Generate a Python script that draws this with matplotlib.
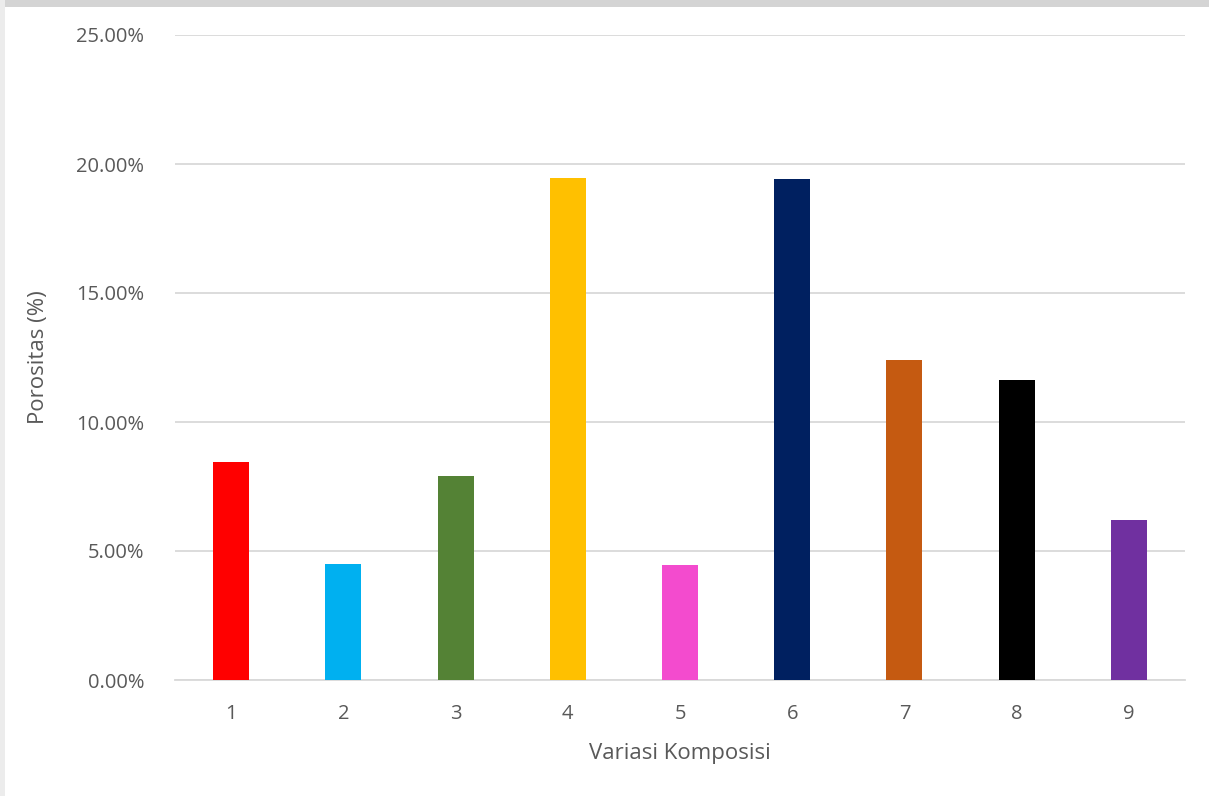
import matplotlib
matplotlib.use("Agg")
import matplotlib.pyplot as plt
from matplotlib.patches import Rectangle
from matplotlib.ticker import FuncFormatter

categories = ["1", "2", "3", "4", "5", "6", "7", "8", "9"]
porositas = [8.45, 4.50, 7.91, 19.46, 4.46, 19.42, 12.40, 11.63, 6.20]
colors = ["#FF0000", "#00B0F0", "#548235", "#FFC000", "#F34BCE",
          "#002060", "#C55A11", "#000000", "#7030A0"]
yticks = [0, 5, 10, 15, 20, 25]

plt.rcParams['font.family'] = ['Open Sans', 'DejaVu Sans']

fig = plt.figure(figsize=(12.09, 7.96), dpi=100)
fig.patch.set_facecolor("white")
# light frame / scan artefacts at edges
fig.patches.append(Rectangle((0, 1 - 7/796), 1, 7/796, transform=fig.transFigure,
                             facecolor="#d4d4d4", edgecolor="none", zorder=-1))
fig.patches.append(Rectangle((0, 0), 5/1209, 1, transform=fig.transFigure,
                             facecolor="#ececec", edgecolor="none", zorder=-1))

ax = fig.add_axes([175/1209, 1 - 680/796, 1010/1209, 645/796])
x = list(range(1, len(categories) + 1))
ax.bar(x, porositas, width=0.32, color=colors, zorder=3)

ax.set_xlim(0.5, len(categories) + 0.5)
ax.set_ylim(0, 25)
ax.set_yticks(yticks)
ax.yaxis.set_major_formatter(FuncFormatter(lambda v, p: f"{v:.2f}%"))
ax.set_xticks(x)
ax.set_xticklabels(categories)

ax.grid(axis="y", color="#d9d9d9", linewidth=1.3, zorder=0)
for s in ["top", "right", "left"]:
    ax.spines[s].set_visible(False)
ax.spines["bottom"].set_color("#d9d9d9")
ax.spines["bottom"].set_linewidth(1.3)
ax.tick_params(axis="both", length=0, colors="#595959", labelsize=14.5)
ax.tick_params(axis="y", pad=22)
ax.tick_params(axis="x", pad=17)

ax.set_ylabel("Porositas (%)", fontsize=16, color="#595959", labelpad=20)
ax.set_xlabel("Variasi Komposisi", fontsize=16, color="#595959", labelpad=14)

fig.savefig("out.png", dpi=100, facecolor=fig.get_facecolor())
